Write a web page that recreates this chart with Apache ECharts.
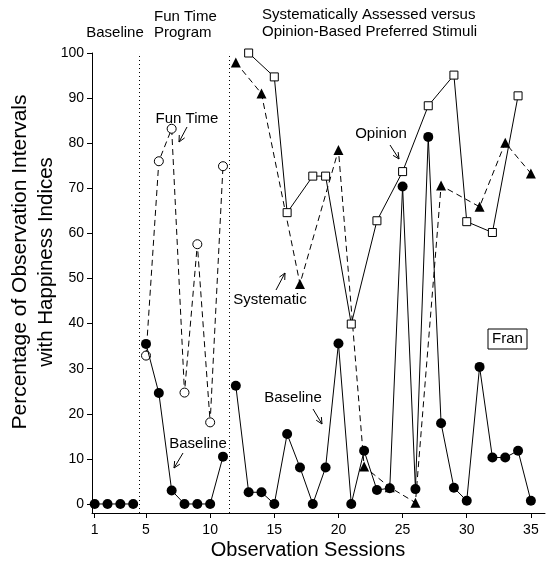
<!DOCTYPE html>
<html><head><meta charset="utf-8">
<script src="https://cdn.jsdelivr.net/npm/echarts@6/dist/echarts.min.js"></script>
<style>html,body{margin:0;padding:0;background:#fff}#c{width:547px;height:563px}</style>
</head><body><div id="c"></div>
<script>
// ---- data ----
const baselineSessions = [1,2,3,4,5,6,7,8,9,10,11,12,13,14,15,16,17,18,19,20,21,22,23,24,25,26,27,28,29,30,31,32,33,34,35];
const baselineValues   = [0,0,0,0,35.5,24.6,3,0,0,0,10.5,26.2,2.6,2.6,0,15.5,8.1,0,8.1,35.6,0,11.8,3.1,3.5,70.4,3.3,81.4,17.9,3.6,0.7,30.4,10.3,10.3,11.8,0.7];
const funTimeSessions  = [5,6,7,8,9,10,11];
const funTimeValues    = [32.9,76,83.2,24.7,57.6,18.1,74.9];
const opinionSessions  = [13,15,16,18,19,21,23,25,27,29,30,32,34];
const opinionValues    = [100,94.7,64.6,72.7,72.7,39.9,62.8,73.7,88.3,95.1,62.6,60.2,90.5];
const systematicSessions = [12,14,17,20,22,24,26,28,31,33,35];
const systematicValues   = [97.9,91,48.8,78.5,8.3,3.7,0.3,70.6,65.9,80.1,73.3];
const phaseBreaks = [4.5, 11.5];
const xTickValues = [1,5,10,15,20,25,30,35];
const yTickValues = [0,10,20,30,40,50,60,70,80,90,100];

const FONT = '"Liberation Sans", Arial, Helvetica, sans-serif';
const pairs = (xs, ys) => xs.map((x, i) => [x, ys[i]]);

// split baseline by phase
const bounds = [-Infinity, ...phaseBreaks, Infinity];
const baselineSegments = [];
for (let p = 0; p < bounds.length - 1; p++) {
  baselineSegments.push(pairs(baselineSessions, baselineValues).filter(d => d[0] > bounds[p] && d[0] < bounds[p+1]));
}

const series = [];
baselineSegments.forEach((seg, i) => {
  series.push({
    type: 'line', data: seg, symbol: 'circle', symbolSize: 10,
    itemStyle: { color: '#000' }, lineStyle: { color: '#000', width: 1 },
    z: 4, animation: false,
    markLine: i === 0 ? {
      silent: true, symbol: 'none', label: { show: false }, animation: false,
      lineStyle: { color: '#000', width: 1, type: [1, 3] },
      data: phaseBreaks.map(x => ({ xAxis: x }))
    } : undefined
  });
});
series.push({
  type: 'line', data: pairs(funTimeSessions, funTimeValues), symbol: 'circle', symbolSize: 9,
  itemStyle: { color: '#fff', borderColor: '#000', borderWidth: 1 },
  lineStyle: { color: '#000', width: 1, type: [6, 4] }, z: 3, animation: false
});
series.push({
  type: 'line', data: pairs(opinionSessions, opinionValues), symbol: 'rect', symbolSize: 8,
  itemStyle: { color: '#fff', borderColor: '#000', borderWidth: 1 },
  lineStyle: { color: '#000', width: 1 }, z: 3, animation: false
});
series.push({
  type: 'line', data: pairs(systematicSessions, systematicValues), symbol: 'triangle', symbolSize: 10,
  itemStyle: { color: '#000' },
  lineStyle: { color: '#000', width: 1, type: [6, 4] }, z: 3, animation: false
});

function arrow(x1, y1, x2, y2) {
  const a = Math.atan2(y2 - y1, x2 - x1), L = 7, w = 0.45;
  const h1 = [x2 - L * Math.cos(a - w), y2 - L * Math.sin(a - w)];
  const h2 = [x2 - L * Math.cos(a + w), y2 - L * Math.sin(a + w)];
  const st = { stroke: '#000', lineWidth: 1 };
  return [
    { type: 'line', shape: { x1, y1, x2, y2 }, style: st },
    { type: 'polyline', shape: { points: [h1, [x2, y2], h2] }, style: { stroke: '#000', lineWidth: 1, fill: null } }
  ];
}
function txt(text, x, y, align, size) {
  return { type: 'text', x, y, style: { text, textAlign: align || 'center', textVerticalAlign: 'middle', font: (size || 15) + 'px ' + FONT, fill: '#000' } };
}

const graphic = [
  txt('Baseline', 115, 33),
  txt('Fun Time', 154, 17, 'left'),
  txt('Program', 154, 33, 'left'),
  txt('Systematically Assessed versus', 262, 15, 'left'),
  txt('Opinion-Based Preferred Stimuli', 262, 32, 'left'),
  txt('Fun Time', 187, 119),
  txt('Baseline', 198, 444),
  txt('Systematic', 270, 300),
  txt('Baseline', 293, 398),
  txt('Opinion', 381, 134),
  { type: 'rect', shape: { x: 488, y: 329, width: 39, height: 20 }, style: { fill: '#fff', stroke: '#000', lineWidth: 1 } },
  txt('Fran', 507.5, 339),
  ...arrow(187, 127, 179, 142),
  ...arrow(183, 453, 174, 468),
  ...arrow(276, 290, 285, 273),
  ...arrow(313, 409, 322, 424),
  ...arrow(390, 145, 399, 159),
  { type: 'text', x: 20, y: 262, rotation: Math.PI / 2, style: { text: 'Percentage of Observation Intervals', textAlign: 'center', textVerticalAlign: 'middle', font: '21px ' + FONT, fill: '#000' } },
  { type: 'text', x: 46, y: 262, rotation: Math.PI / 2, style: { text: 'with Happiness Indices', textAlign: 'center', textVerticalAlign: 'middle', font: '20.5px ' + FONT, fill: '#000' } },
  txt('Observation Sessions', 308, 550, 'center', 20)
];

const chart = echarts.init(document.getElementById('c'), null, { renderer: 'canvas' });
chart.setOption({
  animation: false,
  backgroundColor: '#fff',
  grid: { left: 92, right: 2, top: 53, bottom: 50, containLabel: false },
  xAxis: {
    type: 'value', min: 0.79, max: 36.1,
    axisLine: { onZero: false, lineStyle: { color: '#000', width: 1 } },
    axisTick: { customValues: xTickValues, length: 5, lineStyle: { color: '#000' } },
    axisLabel: { customValues: xTickValues, color: '#000', fontSize: 14, fontFamily: FONT, margin: 10 },
    splitLine: { show: false }
  },
  yAxis: {
    type: 'value', min: -2, max: 100,
    axisLine: { show: true, onZero: false, lineStyle: { color: '#000', width: 1 } },
    axisTick: { show: true, customValues: yTickValues, length: 5, lineStyle: { color: '#000' } },
    axisLabel: { customValues: yTickValues, color: '#000', fontSize: 14, fontFamily: FONT, margin: 8 },
    splitLine: { show: false }
  },
  series,
  graphic
});
</script></body></html>
